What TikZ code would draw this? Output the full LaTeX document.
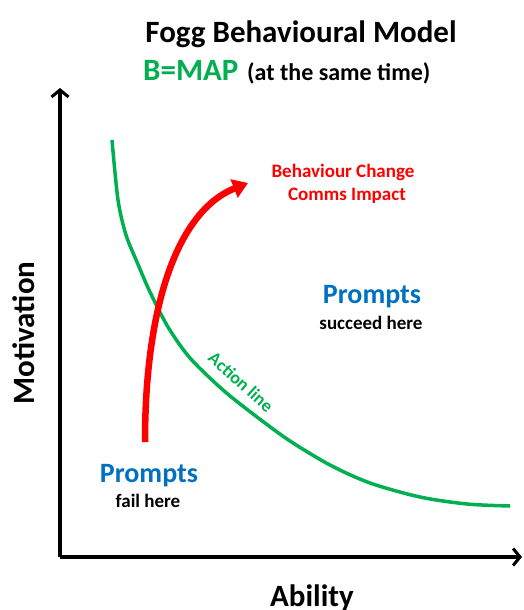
\documentclass[tikz,border=0pt]{standalone}
\usepackage{fontspec}
\setmainfont{Carlito}
\usetikzlibrary{arrows.meta}
\definecolor{fgreen}{RGB}{0,176,80}
\definecolor{fblue}{RGB}{0,112,192}
\definecolor{fred}{RGB}{255,0,0}
\tikzset{
  lbl/.style={inner sep=0pt, anchor=base, font=\bfseries},
  axisline/.style={line width=3.5pt, -{Straight Barb[length=7pt,width=17pt,line width=3pt]}},
  actionline/.style={fgreen, line width=3.5pt},
  changearrow/.style={fred, line width=6.5pt, -{Triangle[length=15pt,width=19pt]}}
}
\begin{document}
\begin{tikzpicture}[x=1pt,y=-1pt]
\useasboundingbox (0,0) rectangle (523,610);
% axes
\coordinate (O) at (60,557);
\coordinate (Ytop) at (60,88);
\coordinate (Xend) at (522,557);
\draw[axisline] (O) -- (Ytop);
\draw[axisline] (O) -- (Xend);
% action line
\draw[actionline] plot[smooth, tension=0.5] coordinates {(112,140) (118,200) (126,235) (137,262) (150,292) (168,327) (190,358) (223,390) (257,417) (290,441) (330,465) (370,483) (420,497) (467,504) (510,506)};
% behaviour change arrow
\coordinate (Rs) at (145,442);
\coordinate (Re) at (248,183);
\draw[changearrow] (Rs) .. controls (145,300) and (180,210) .. (Re);
% texts
\node[lbl, font=\bfseries\fontsize{31}{31}\selectfont] (title) at (301,43) {Fogg Behavioural Model};
\node[lbl, anchor=base west, font=\bfseries\fontsize{31}{31}\selectfont, text=fgreen] (bmap) at (143,80) {B=MAP};
\node[lbl, anchor=base west, font=\bfseries\fontsize{24}{24}\selectfont] (same) at (247,80) {(at the same time)};
\node[lbl, font=\bfseries\fontsize{19}{19}\selectfont, text=fred] (bc1) at (343,177) {Behaviour Change};
\node[lbl, font=\bfseries\fontsize{19}{19}\selectfont, text=fred] (bc2) at (347,200) {Comms Impact};
\node[lbl, font=\bfseries\fontsize{28}{28}\selectfont, text=fblue] (p1) at (372,303) {Prompts};
\node[lbl, font=\bfseries\fontsize{19}{19}\selectfont] (s1) at (371,329) {succeed here};
\node[lbl, font=\bfseries\fontsize{28}{28}\selectfont, text=fblue] (p2) at (149,482) {Prompts};
\node[lbl, font=\bfseries\fontsize{19}{19}\selectfont] (f2) at (148,507) {fail here};
\node[inner sep=0pt, font=\bfseries\fontsize{18}{18}\selectfont, text=fgreen, rotate=-42] (al) at (241,382) {Action line};
\node[inner sep=0pt, font=\bfseries\fontsize{31}{31}\selectfont, rotate=90] (mot) at (24,333) {Motivation};
\node[lbl, font=\bfseries\fontsize{31}{31}\selectfont] (abil) at (312,606) {Ability};
\end{tikzpicture}
\end{document}
